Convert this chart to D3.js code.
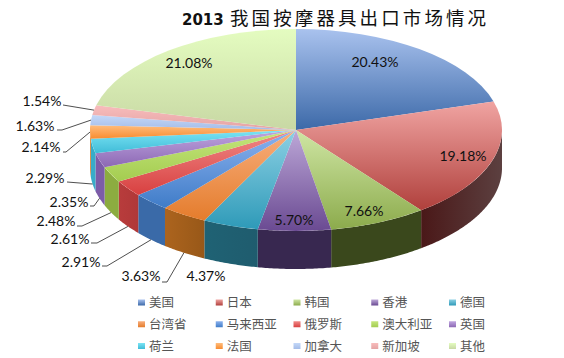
<!DOCTYPE html>
<html>
<head>
<meta charset="utf-8">
<script src="https://cdnjs.cloudflare.com/ajax/libs/d3/7.8.5/d3.min.js"></script>
<style>
  html, body { margin: 0; padding: 0; background: #fff; overflow: hidden; }
  svg { display: block; }
</style>
</head>
<body>
<svg width="564" height="358"></svg>
<script>
var categories = ["美国", "日本", "韩国", "香港", "德国", "台湾省", "马来西亚", "俄罗斯", "澳大利亚", "英国", "荷兰", "法国", "加拿大", "新加坡", "其他"];
var shares = [20.43, 19.18, 7.66, 5.7, 4.37, 3.63, 2.91, 2.61, 2.48, 2.35, 2.29, 2.14, 1.63, 1.54, 21.08];

var topLight = ["#a9c2ee", "#f0a4a2", "#cfe6a4", "#bda8d8", "#8cd0e4", "#f8ae7c", "#8cb2ee", "#f08a88", "#c4e67c", "#c0a6e0", "#7ce4f4", "#ffbc7c", "#c4d8f8", "#f8bcbc", "#e4fcc0"];
var topDark = ["#3c69a8", "#b0403c", "#8cab4c", "#6a4a92", "#2e9ab8", "#e47c2c", "#3f7cc8", "#d84040", "#a4cc50", "#8c68b4", "#40bcd8", "#f88c30", "#a4bce8", "#e4a4a4", "#c8d8a4"];
var wallLeft = ["#3c69a8", "#4a1818", "#3a481c", "#382850", "#1f6274", "#ac641e", "#3a6aa8", "#b83c3c", "#8cac40", "#7c5ca8", "#38acc8", "#e07820", "#a4bce8", "#e4a4a4", "#c8d8a4"];
var wallRight = ["#3c69a8", "#5c4040", "#3a481c", "#382850", "#1f5c6e", "#985818", "#3a6aa8", "#b03838", "#8cac40", "#7c5ca8", "#38acc8", "#e07820", "#a4bce8", "#e4a4a4", "#c8d8a4"];

// label centres, [x, y], same order as the categories
var labelAt = [[375, 62], [463, 156], [364, 211], [294, 220], [206, 276], [141, 276], [81, 262], [70, 239], [56, 221], [69, 202], [45, 178], [41, 147], [35, 126], [42, 101], [189, 63]];
// leader lines: category index, text side start, knee
var leaders = [[5, [162, 282], [167, 282]], [6, [102, 266], [107, 266]], [7, [91, 243], [97, 243]], [8, [77, 226], [82, 226]], [9, [90, 206], [94, 206]], [10, [67, 182], [67, 182]], [11, [63, 152], [66, 152]], [12, [57, 130], [62, 130]], [13, [63, 105], [63, 105]]];

var svg = d3.select("svg");

var cx = 296,
  cy = 130,
  rx = 206,
  ry = 101,
  depth = 38;

var x = d3.scaleLinear().domain([-1, 1]).range([cx - rx, cx + rx]);
var y = d3.scaleLinear().domain([-1, 1]).range([cy + ry, cy - ry]);

var pie = d3.pie().sort(null).value(function (d) { return d; });
var slices = pie(shares);

var arc = d3.arc().innerRadius(0).outerRadius(rx);

var defs = svg.append("defs");

function gradient(id, horizontal, c0, c1) {
  var g = defs
    .append("linearGradient")
    .attr("id", id)
    .attr("x1", 0)
    .attr("y1", 0)
    .attr("x2", horizontal ? 1 : 0)
    .attr("y2", horizontal ? 0 : 1);
  g.append("stop").attr("offset", 0).attr("stop-color", c0);
  g.append("stop").attr("offset", 1).attr("stop-color", c1);
}

slices.forEach(function (s, i) {
  gradient("top" + i, false, topLight[i], topDark[i]);
  gradient("wall" + i, true, wallLeft[i], wallRight[i]);
  gradient("key" + i, false, topLight[i], topDark[i]);
});

// outer wall, only the part of the rim that faces the viewer
var wall = d3
  .area()
  .x(function (a) { return x(Math.sin(a)); })
  .y0(function (a) { return y(Math.cos(a)); })
  .y1(function (a) { return y(Math.cos(a)) + depth; });

var walls = svg.append("g").attr("class", "walls");

slices.forEach(function (s, i) {
  var a0 = Math.max(s.startAngle, Math.PI / 2),
    a1 = Math.min(s.endAngle, (3 * Math.PI) / 2);
  if (a1 <= a0) return;
  walls
    .append("path")
    .attr("d", wall(d3.range(a0, a1, 0.01).concat([a1])))
    .attr("fill", "url(#wall" + i + ")");
});

svg
  .append("g")
  .attr("transform", "translate(" + cx + "," + cy + ") scale(1," + ry / rx + ")")
  .selectAll("path")
  .data(slices)
  .enter()
  .append("path")
  .attr("d", arc)
  .attr("fill", function (d, i) { return "url(#top" + i + ")"; });

// leader lines end on the rim, at the middle of the slice
var leaderLine = d3.line();

svg
  .append("g")
  .selectAll("path")
  .data(leaders)
  .enter()
  .append("path")
  .attr("fill", "none")
  .attr("stroke", "#222")
  .attr("stroke-width", 0.8)
  .attr("d", function (d) {
    var s = slices[d[0]],
      mid = (s.startAngle + s.endAngle) / 2,
      drop = mid < 4.62 ? depth : 0;
    return leaderLine([d[1], d[2], [x(Math.sin(mid)), y(Math.cos(mid)) + drop]]);
  });

svg
  .append("g")
  .selectAll("text")
  .data(shares)
  .enter()
  .append("text")
  .attr("x", function (d, i) { return labelAt[i][0]; })
  .attr("y", function (d, i) { return labelAt[i][1]; })
  .attr("dy", "0.35em")
  .attr("text-anchor", "middle")
  .attr("font-family", "Lato, 'Open Sans', sans-serif")
  .attr("font-size", 14)
  .attr("fill", "#111")
  .text(function (d) { return d.toFixed(2) + "%"; });

// title
var title = svg
  .append("text")
  .attr("x", 182)
  .attr("y", 25)
  .attr("fill", "#111");
title
  .append("tspan")
  .attr("font-family", "'DejaVu Sans', sans-serif")
  .attr("font-weight", "bold")
  .attr("font-size", 15)
  .text("2013");
title
  .append("tspan")
  .attr("x", 230)
  .attr("font-family", "'Noto Sans CJK SC', sans-serif")
  .attr("font-size", 18.5)
  .attr("letter-spacing", 3.1)
  .text("我国按摩器具出口市场情况");

// legend, five columns
var keyX = d3.scalePoint().domain(d3.range(5)).range([138, 449]);
var keyY = d3.scalePoint().domain(d3.range(3)).range([302.5, 346]);

var key = svg
  .append("g")
  .attr("class", "key")
  .selectAll("g")
  .data(categories)
  .enter()
  .append("g")
  .attr("transform", function (d, i) {
    return "translate(" + keyX(i % 5) + "," + keyY(Math.floor(i / 5)) + ")";
  });

key
  .append("rect")
  .attr("y", -3)
  .attr("width", 7)
  .attr("height", 6)
  .attr("fill", function (d, i) { return "url(#key" + i + ")"; });

key
  .append("text")
  .attr("x", 11)
  .attr("dy", "0.36em")
  .attr("font-family", "'Noto Sans CJK SC', sans-serif")
  .attr("font-size", 12.5)
  .attr("fill", "#555")
  .text(function (d) { return d; });
</script>
</body>
</html>
